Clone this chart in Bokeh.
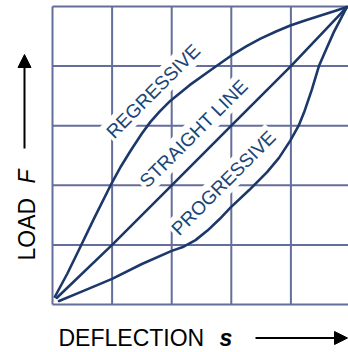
import math
from bokeh.plotting import figure
from bokeh.models import Range1d, Label, Arrow, NormalHead, ColumnDataSource
from bokeh.embed import file_html
from bokeh.resources import INLINE
from bokeh.core.properties import value

# ---- data (grid units: deflection s, load F) ----
grid_ticks = [0, 1, 2, 3, 4, 5]

regressive_s = [0.04, 0.25, 0.44, 0.70, 0.99, 1.15, 1.31, 1.50, 1.64, 1.80, 1.98, 2.30,
                2.65, 2.99, 3.25, 3.49, 3.75, 3.99, 4.25, 4.50, 4.75, 4.94]
regressive_F = [0.13, 0.52, 0.91, 1.45, 2.03, 2.32, 2.58, 2.87, 3.06, 3.24, 3.42, 3.68,
                3.93, 4.17, 4.33, 4.46, 4.58, 4.68, 4.77, 4.85, 4.93, 4.99]

straight_s = [0.07, 1.0, 2.0, 3.0, 4.0, 4.94]
straight_F = [0.11, 1.0, 2.0, 3.0, 4.0, 4.99]

progressive_s = [0.11, 0.50, 1.00, 1.50, 2.00, 2.20, 2.40, 2.60, 2.80, 2.99, 3.30, 3.60,
                 3.80, 3.99, 4.13, 4.22, 4.35, 4.47, 4.60, 4.72, 4.84, 4.94]
progressive_F = [0.06, 0.22, 0.43, 0.68, 0.90, 0.97, 1.08, 1.24, 1.43, 1.63, 1.92, 2.22,
                 2.46, 2.75, 3.00, 3.22, 3.60, 4.00, 4.30, 4.57, 4.80, 4.99]

curve_labels = ["REGRESSIVE", "STRAIGHT LINE", "PROGRESSIVE"]
label_s = [1.69, 2.37, 2.87]
label_F = [3.58, 2.87, 2.04]

x_title = "DEFLECTION"
x_symbol = "s"
y_title = "LOAD"
y_symbol = "F"

# ---- layout helpers (page pixel -> grid units) ----
UX = 59.6
UY = 59.6
def sx(px):
    return (px - 52.0) / UX
def sy(py):
    return (304.0 - py) / UY

W, H = 348, 352
p = figure(width=W, height=H, output_backend="svg", toolbar_location=None,
           x_range=Range1d(sx(0), sx(W)), y_range=Range1d(sy(H), sy(0)),
           min_border=0, min_border_left=0, min_border_right=0,
           min_border_top=0, min_border_bottom=0)
p.axis.visible = False
p.grid.visible = False
p.outline_line_color = None
p.background_fill_color = "white"
p.border_fill_color = "white"

GRID_C = "#646e9a"
CURVE_C = "#1c386a"
LABEL_C = "#1b4677"

lo, hi = grid_ticks[0], grid_ticks[-1]
p.segment(x0=grid_ticks, y0=[lo] * len(grid_ticks), x1=grid_ticks, y1=[hi] * len(grid_ticks),
          line_color=GRID_C, line_width=2)
p.segment(x0=[lo] * len(grid_ticks), y0=grid_ticks, x1=[hi] * len(grid_ticks), y1=grid_ticks,
          line_color=GRID_C, line_width=2)

lab_src = ColumnDataSource(dict(s=label_s, F=label_F, text=curve_labels))
p.text(x="s", y="F", text="text", source=lab_src, angle=math.pi / 4,
       text_align="center", text_baseline="middle",
       text_font=value("Liberation Sans"), text_font_size=value("19px"),
       text_color=LABEL_C, background_fill_color="white", padding=2)

for xs, ys in [(regressive_s, regressive_F), (straight_s, straight_F), (progressive_s, progressive_F)]:
    p.line(xs, ys, line_color=CURVE_C, line_width=2.6, line_join="round", line_cap="round")

FONT = "Liberation Sans"
p.add_layout(Label(x=sx(58), y=sy(337), text=x_title, text_font=FONT,
                   text_font_size="23px", text_color="black", text_baseline="alphabetic"))
p.add_layout(Label(x=sx(219), y=sy(337), text=x_symbol, text_font=FONT,
                   text_font_size="23px", text_font_style="bold italic", text_color="black",
                   text_baseline="alphabetic"))
p.add_layout(Arrow(end=NormalHead(size=13, fill_color="black", line_color="black"),
                   x_start=sx(255), y_start=sy(337.5), x_end=sx(347), y_end=sy(337.5),
                   line_color="black", line_width=2))

p.add_layout(Label(x=sx(26), y=sy(260), text=y_title, text_font=FONT, angle=math.pi / 2,
                   text_font_size="23px", text_color="black", text_baseline="alphabetic"))
p.add_layout(Label(x=sx(26), y=sy(183), text=y_symbol, text_font=FONT, angle=math.pi / 2,
                   text_font_size="23px", text_font_style="italic", text_color="black",
                   text_baseline="alphabetic"))
p.add_layout(Arrow(end=NormalHead(size=13, fill_color="black", line_color="black"),
                   x_start=sx(24), y_start=sy(148), x_end=sx(24), y_end=sy(54),
                   line_color="black", line_width=2))

open("out.html", "w").write(file_html(p, INLINE))
